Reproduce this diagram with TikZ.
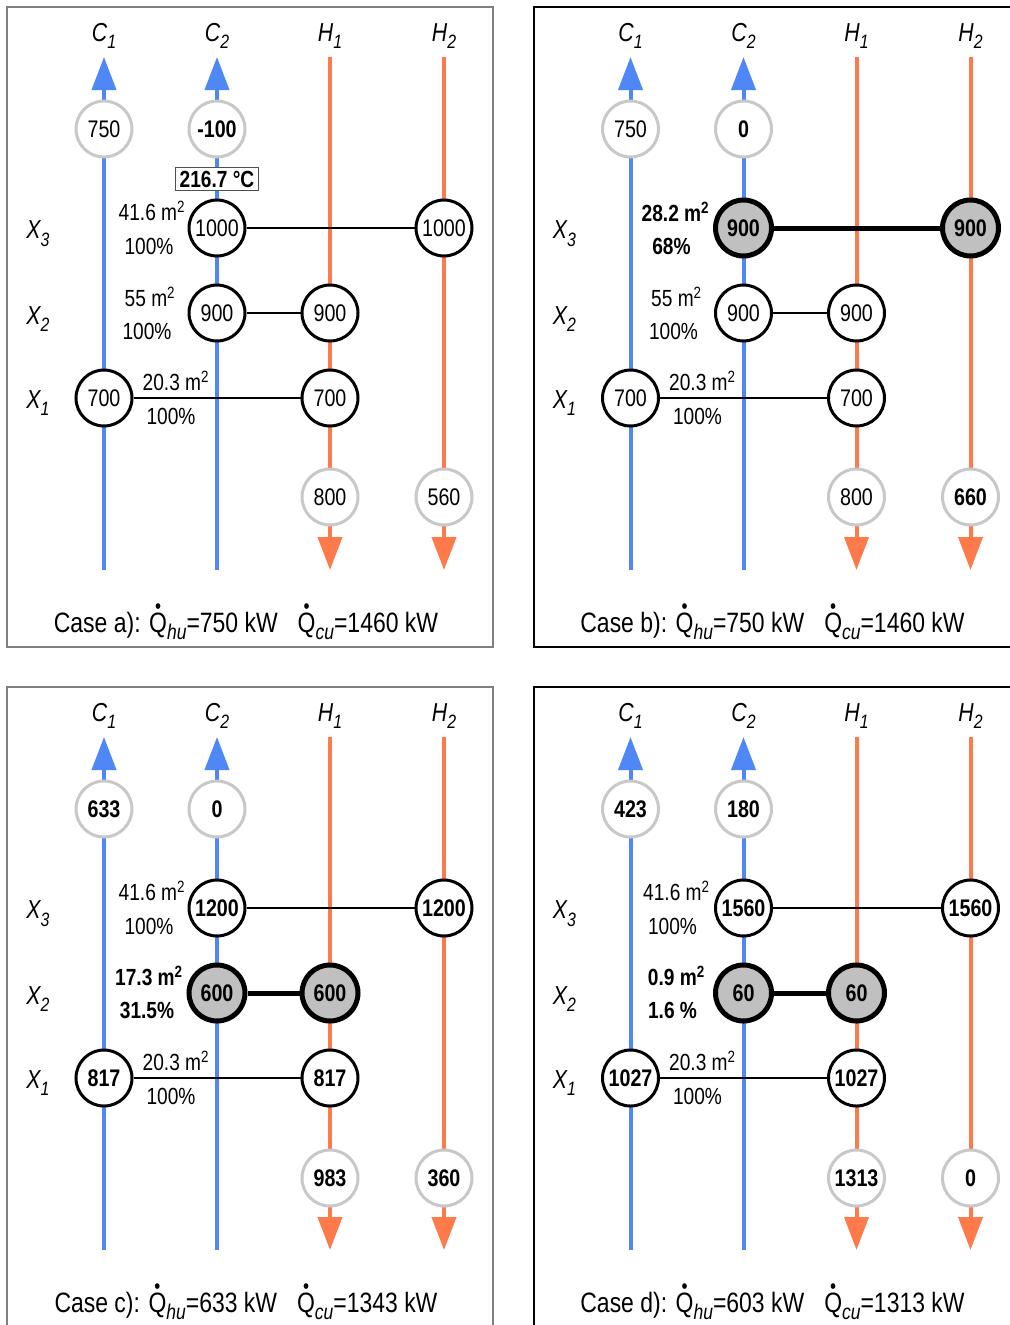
\documentclass[tikz,border=0pt]{standalone}
\usepackage{fontspec}
\setmainfont{Liberation Sans}[FakeStretch=0.82]
\usetikzlibrary{arrows.meta}
\definecolor{cblue}{HTML}{4F87F7}
\definecolor{hred}{HTML}{FF7A4A}
\definecolor{ugray}{HTML}{C8C8C8}
\definecolor{hxfill}{HTML}{C0C0C0}
\definecolor{frgray}{HTML}{808080}
\definecolor{boxgray}{HTML}{505050}
\newcommand\Qd{{\setbox0\hbox{Q}\rlap{\hbox to \wd0{\hss\raisebox{0.66em}{\scalebox{0.75}{\textbullet}}\hss}}\box0}}
\newcommand\subQ[1]{\raisebox{-0.28em}{\fontsize{16}{16}\selectfont\itshape #1}}
\newcommand\subL[1]{\raisebox{-0.3em}{\fontsize{14.5}{15}\selectfont\itshape #1}}
\tikzset{
 cold/.style={draw=cblue, line width=3pt, -{Triangle[length=24.75pt,width=18pt]}},
 hot/.style={draw=hred, line width=3pt, -{Triangle[length=24.75pt,width=18pt]}},
 num/.style={font=\fontsize{18}{20}\selectfont},
 util/.style={circle, draw=ugray, line width=2.25pt, fill=white, minimum size=42pt, inner sep=0pt, num},
 hx/.style={circle, draw=black, line width=2.25pt, fill=white, minimum size=42pt, inner sep=0pt, num},
 hxh/.style={hx, fill=hxfill, line width=3.75pt},
 link/.style={draw=black, line width=2.2pt},
 linkh/.style={draw=black, line width=3.75pt},
 bnum/.style={font=\fontsize{18}{20}\selectfont\bfseries},
 lab/.style={font=\fontsize{19.5}{21}\selectfont\itshape, inner sep=0pt},
 area/.style={font=\fontsize{17.5}{20}\selectfont, inner sep=0pt},
 barea/.style={font=\fontsize{17.5}{20}\selectfont\bfseries, inner sep=0pt},
 caseL/.style={font=\fontsize{21}{24}\selectfont, inner sep=0pt},
 tbox/.style={draw=boxgray, line width=1pt, fill=white, inner xsep=3pt, inner ysep=2.5pt, font=\fontsize{17.5}{20}\selectfont\bfseries},
 frL/.style={draw=frgray, line width=1.5pt},
 frR/.style={draw=black, line width=1.2pt},
}
\newcommand\streams[1]{%
 \coordinate (#1c1b) at (104,570); \coordinate (#1c1t) at (104,57);
 \coordinate (#1c2b) at (217,570); \coordinate (#1c2t) at (217,57);
 \coordinate (#1h1t) at (330,57); \coordinate (#1h1b) at (330,570);
 \coordinate (#1h2t) at (444,57); \coordinate (#1h2b) at (444,570);
 \draw[cold] (#1c1b) -- (#1c1t);
 \draw[cold] (#1c2b) -- (#1c2t);
 \draw[hot] (#1h1t) -- (#1h1b);
 \draw[hot] (#1h2t) -- (#1h2b);
 \node[lab] (#1LC1) at (104,36) {C\subL{1}};
 \node[lab] (#1LC2) at (217,36) {C\subL{2}};
 \node[lab] (#1LH1) at (330,36) {H\subL{1}};
 \node[lab] (#1LH2) at (444,36) {H\subL{2}};
 \node[lab] (#1LX3) at (38,234) {X\subL{3}};
 \node[lab] (#1LX2) at (38,319) {X\subL{2}};
 \node[lab] (#1LX1) at (38,403) {X\subL{1}};
}
\begin{document}
\begin{tikzpicture}[x=0.75pt,y=-0.75pt]
\useasboundingbox (0,0) rectangle (1010,1325);
\fill[white] (0,0) rectangle (1010,1325);
% frames
\draw[frL] (7,7) rectangle (493,647);
\draw[frR] (1012,7) -- (534,7) -- (534,647) -- (1012,647);
\draw[frL] (7,1327) -- (7,687) -- (493,687) -- (493,1327);
\draw[frR] (534,1327) -- (534,687) -- (1012,687);

% ---------- panel a ----------
\begin{scope}
\streams{a}
\node[util] (aU1) at (104,129) {750};
\node[util,bnum] (aU2) at (217,129) {-100};
\node[util] (aU3) at (330,497) {800};
\node[util] (aU4) at (444,497) {560};
\node[hx] (aX3c) at (217,228) {1000};
\node[hx] (aX3h) at (444,228) {1000};
\node[hx] (aX2c) at (217,313) {900};
\node[hx] (aX2h) at (330,313) {900};
\node[hx] (aX1c) at (104,398) {700};
\node[hx] (aX1h) at (330,398) {700};
\draw[link] (aX3c) -- (aX3h);
\draw[link] (aX2c) -- (aX2h);
\draw[link] (aX1c) -- (aX1h);
\node[area] (aA3) at (152,211) {41.6 m\textsuperscript{2}};
\node[area] (aP3) at (149,246) {100\%};
\node[area] (aA2) at (150,297) {55 m\textsuperscript{2}};
\node[area] (aP2) at (147,331) {100\%};
\node[area] (aA1) at (176,381) {20.3 m\textsuperscript{2}};
\node[area] (aP1) at (171,416) {100\%};
\node[tbox] (aT) at (217,179) {216.7 °C};
\node[caseL] (aCase) at (246,622) {Case a): \Qd\subQ{hu}=750 kW\hspace{15pt}\Qd\subQ{cu}=1460 kW};
\end{scope}

% ---------- panel b ----------
\begin{scope}[shift={(526.5,0)}]
\streams{b}
\node[util] (bU1) at (104,129) {750};
\node[util,bnum] (bU2) at (217,129) {0};
\node[util] (bU3) at (330,497) {800};
\node[util,bnum] (bU4) at (444,497) {660};
\node[hxh,bnum] (bX3c) at (217,228) {900};
\node[hxh,bnum] (bX3h) at (444,228) {900};
\node[hx] (bX2c) at (217,313) {900};
\node[hx] (bX2h) at (330,313) {900};
\node[hx] (bX1c) at (104,398) {700};
\node[hx] (bX1h) at (330,398) {700};
\draw[linkh] (bX3c) -- (bX3h);
\draw[link] (bX2c) -- (bX2h);
\draw[link] (bX1c) -- (bX1h);
\node[barea] (bA3) at (149,212) {28.2 m\textsuperscript{2}};
\node[barea] (bP3) at (145,246) {68\%};
\node[area] (bA2) at (150,297) {55 m\textsuperscript{2}};
\node[area] (bP2) at (147,331) {100\%};
\node[area] (bA1) at (176,381) {20.3 m\textsuperscript{2}};
\node[area] (bP1) at (171,416) {100\%};
\node[caseL] (bCase) at (246,622) {Case b): \Qd\subQ{hu}=750 kW\hspace{15pt}\Qd\subQ{cu}=1460 kW};
\end{scope}

% ---------- panel c ----------
\begin{scope}[shift={(0,680)}]
\streams{c}
\node[util,bnum] (cU1) at (104,129) {633};
\node[util,bnum] (cU2) at (217,129) {0};
\node[util,bnum] (cU3) at (330,498) {983};
\node[util,bnum] (cU4) at (444,498) {360};
\node[hx,bnum] (cX3c) at (217,228) {1200};
\node[hx,bnum] (cX3h) at (444,228) {1200};
\node[hxh,bnum] (cX2c) at (217,313) {600};
\node[hxh,bnum] (cX2h) at (330,313) {600};
\node[hx,bnum] (cX1c) at (104,398) {817};
\node[hx,bnum] (cX1h) at (330,398) {817};
\draw[link] (cX3c) -- (cX3h);
\draw[linkh] (cX2c) -- (cX2h);
\draw[link] (cX1c) -- (cX1h);
\node[area] (cA3) at (152,211) {41.6 m\textsuperscript{2}};
\node[area] (cP3) at (149,246) {100\%};
\node[barea] (cA2) at (149,296) {17.3 m\textsuperscript{2}};
\node[barea] (cP2) at (147,330) {31.5\%};
\node[area] (cA1) at (176,381) {20.3 m\textsuperscript{2}};
\node[area] (cP1) at (171,416) {100\%};
\node[caseL] (cCase) at (246,622) {Case c): \Qd\subQ{hu}=633 kW\hspace{15pt}\Qd\subQ{cu}=1343 kW};
\end{scope}

% ---------- panel d ----------
\begin{scope}[shift={(526.5,680)}]
\streams{d}
\node[util,bnum] (dU1) at (104,129) {423};
\node[util,bnum] (dU2) at (217,129) {180};
\node[util,bnum] (dU3) at (330,498) {1313};
\node[util,bnum] (dU4) at (444,498) {0};
\node[hx,bnum] (dX3c) at (217,228) {1560};
\node[hx,bnum] (dX3h) at (444,228) {1560};
\node[hxh,bnum] (dX2c) at (217,313) {60};
\node[hxh,bnum] (dX2h) at (330,313) {60};
\node[hx,bnum] (dX1c) at (104,398) {1027};
\node[hx,bnum] (dX1h) at (330,398) {1027};
\draw[link] (dX3c) -- (dX3h);
\draw[linkh] (dX2c) -- (dX2h);
\draw[link] (dX1c) -- (dX1h);
\node[area] (dA3) at (150,211) {41.6 m\textsuperscript{2}};
\node[area] (dP3) at (146,246) {100\%};
\node[barea] (dA2) at (150,296) {0.9 m\textsuperscript{2}};
\node[barea] (dP2) at (146,330) {1.6 \%};
\node[area] (dA1) at (176,381) {20.3 m\textsuperscript{2}};
\node[area] (dP1) at (171,416) {100\%};
\node[caseL] (dCase) at (246,622) {Case d): \Qd\subQ{hu}=603 kW\hspace{15pt}\Qd\subQ{cu}=1313 kW};
\end{scope}
\end{tikzpicture}
\end{document}
